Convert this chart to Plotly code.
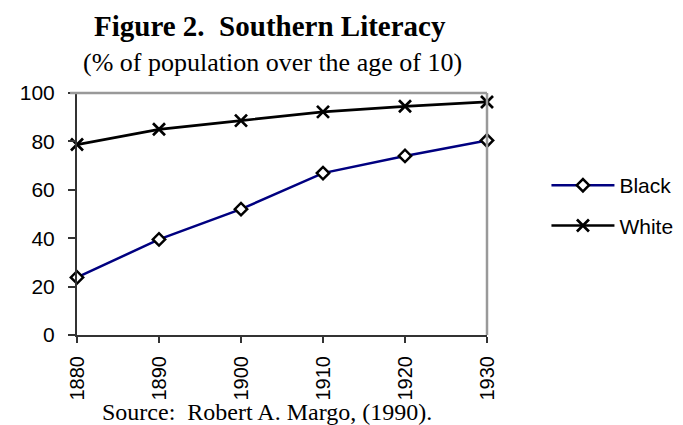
import plotly.graph_objects as go

years = [1880, 1890, 1900, 1910, 1920, 1930]
black = [23.8, 39.5, 52.0, 66.9, 74.0, 80.4]
white = [78.7, 85.0, 88.6, 92.2, 94.5, 96.3]
series_names = ["Black", "White"]
title_text = "<b>Figure 2.  Southern Literacy</b>"
subtitle_text = "(% of population over the age of 10)"
source_text = "Source:  Robert A. Margo, (1990)."

SANS = "Liberation Sans, Arial, sans-serif"
SERIF = "Liberation Serif, Times New Roman, serif"

fig = go.Figure()
fig.add_trace(go.Scatter(
    x=years, y=black, name=series_names[0], mode="lines+markers",
    line=dict(color="#000080", width=2.5),
    marker=dict(symbol="diamond", size=9.5, color="white",
                line=dict(color="black", width=2.5)),
    cliponaxis=False, legendgroup="a"))
fig.add_trace(go.Scatter(
    x=years, y=white, name=series_names[1], mode="lines+markers",
    line=dict(color="black", width=2.7),
    marker=dict(symbol="x-thin", size=12, color="black",
                line=dict(color="black", width=2.7)),
    cliponaxis=False, legendgroup="b"))

axis_common = dict(showgrid=False, zeroline=False)
fig.update_layout(
    width=683, height=425,
    margin=dict(l=69, r=198, t=85, b=98),
    paper_bgcolor="white", plot_bgcolor="white",
    font=dict(family=SANS, size=21, color="black"),
    xaxis=dict(range=[1880, 1930], tickmode="array", tickvals=years,
               ticktext=[str(y) for y in years], tickangle=-90,
               ticks="outside", ticklen=6, tickwidth=1.5, tickcolor="#333",
               ticklabelstandoff=5,
               showline=True, linecolor="#333", linewidth=2,
               tickfont=dict(family=SANS, size=20, color="black"), **axis_common),
    yaxis=dict(range=[0, 100], dtick=20, ticks="outside", ticklen=7,
               tickwidth=1.5, tickcolor="#333", ticklabelstandoff=9,
               showline=True, linecolor="#333", linewidth=2,
               tickfont=dict(family=SANS, size=21, color="black"), **axis_common),
    xaxis2=dict(overlaying="x", side="bottom", range=[1880, 1930],
                tickmode="array", tickvals=years, showticklabels=False,
                ticks="inside", ticklen=5, tickwidth=1.5, tickcolor="#333",
                showline=False, **axis_common),
    yaxis2=dict(overlaying="y", side="left", range=[0, 100], dtick=20,
                showticklabels=False, ticks="inside", ticklen=7,
                tickwidth=1.5, tickcolor="#333", showline=False, **axis_common),
    legend=dict(x=1.145, y=0.535, xanchor="left", yanchor="middle",
                font=dict(family=SANS, size=21, color="black"),
                itemwidth=63, tracegroupgap=10, traceorder="grouped",
                bgcolor="rgba(0,0,0,0)"),
    showlegend=True,
)

# gray top and right frame
fig.add_shape(type="line", xref="paper", yref="paper", x0=-0.017, x1=1, y0=1, y1=1,
              line=dict(color="#999999", width=2.5))
fig.add_shape(type="line", xref="paper", yref="paper", x0=1, x1=1, y0=0, y1=1,
              line=dict(color="#999999", width=2.5))

fig.add_annotation(text=title_text, xref="paper", yref="paper", x=0.471, y=1.276,
                   showarrow=False, xanchor="center", yanchor="middle", borderpad=0,
                   font=dict(family=SERIF, size=29, color="black"))
fig.add_annotation(text=subtitle_text, xref="paper", yref="paper", x=0.476, y=1.125,
                   showarrow=False, xanchor="center", yanchor="middle", borderpad=0,
                   font=dict(family=SERIF, size=26, color="black"))
fig.add_annotation(text=source_text, xref="paper", yref="paper", x=0.464, y=-0.318,
                   showarrow=False, xanchor="center", yanchor="middle", borderpad=0,
                   font=dict(family=SERIF, size=24, color="black"))

fig.write_html("out.html")
